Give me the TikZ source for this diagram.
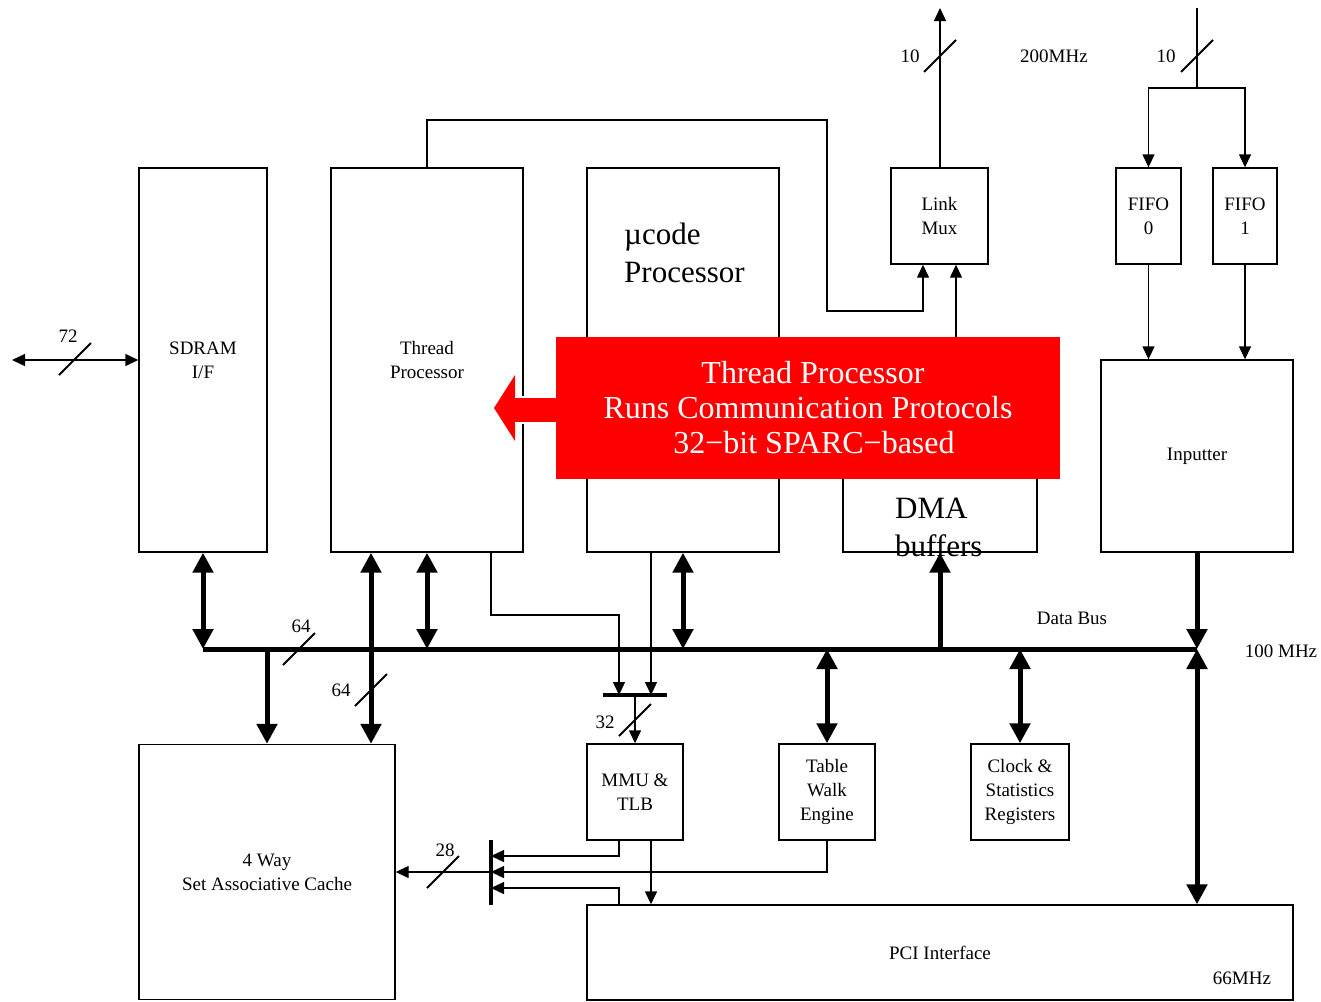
\documentclass[tikz,border=0pt]{standalone}
\usepackage{fontspec}
\setmainfont{Liberation Serif}
\usetikzlibrary{arrows.meta}
\begin{document}
\begin{tikzpicture}[x=1pt,y=-1pt,
  box/.style={draw, line width=1.4pt, inner sep=0pt, align=center, font=\fontsize{19}{24}\selectfont},
  thinl/.style={line width=1.4pt},
  tarr/.style={line width=1.4pt, -{Triangle[length=13pt,width=12pt]}},
  tboth/.style={line width=1.4pt, {Triangle[length=13pt,width=12pt]}-{Triangle[length=13pt,width=12pt]}},
  thickl/.style={line width=5pt},
  Tend/.style={line width=5pt, -{Triangle[length=20pt,width=20pt]}},
  Tboth/.style={line width=5pt, {Triangle[length=20pt,width=20pt]}-{Triangle[length=20pt,width=20pt]}},
  slash/.style={line width=2pt},
  lbl/.style={font=\fontsize{19}{24}\selectfont, inner sep=0pt},
  big/.style={font=\fontsize{31}{38}\selectfont, inner sep=0pt, align=left, anchor=north west}
]
\useasboundingbox (0,0) rectangle (1321,1001);

% boxes
\node[box, minimum width=128, minimum height=384] (sdram) at (203,360) {SDRAM\\I/F};
\node[box, minimum width=192, minimum height=384] (tp) at (427,360) {Thread\\Processor};
\node[box, minimum width=192, minimum height=384] (uc) at (683,360) {};
\node[box, minimum width=194, minimum height=112] (dma) at (940,496) {};
\node[box, minimum width=97, minimum height=96] (lmux) at (939.5,216) {Link\\Mux};
\node[box, minimum width=65, minimum height=96] (fifo0) at (1148.5,216) {FIFO\\0};
\node[box, minimum width=64, minimum height=96] (fifo1) at (1245,216) {FIFO\\1};
\node[box, minimum width=192, minimum height=192] (inp) at (1197,456) {Inputter};
\node[box, minimum width=96, minimum height=96] (mmu) at (635,792) {MMU \&\\TLB};
\node[box, minimum width=96, minimum height=96] (twe) at (827,792) {Table\\Walk\\Engine};
\node[box, minimum width=98, minimum height=96] (clk) at (1020,792) {Clock \&\\Statistics\\Registers};
\node[box, minimum width=256, minimum height=255] (cache) at (267,872) {4 Way\\Set Associative Cache};
\node[box, minimum width=706, minimum height=95] (pci) at (940,952.5) {PCI Interface};

\node[big] (uctext) at (624,223) {µcode\\Processor};

% top links
\coordinate (lout) at (940,8);
\draw[tarr] (lmux.north -| lout) -- (lout);
\draw[slash] (940,56) +(-16,16) -- +(16,-16);
\node[lbl] (l10a) at (910,56) {10};
\node[lbl] (mhz200) at (1054,56) {200MHz};

\coordinate (fin) at (1197,8);
\draw[thinl] (fin) -- (1197,88);
\draw[tarr] (1197,88) -| (fifo0.north);
\draw[tarr] (1197,88) -| (fifo1.north);
\draw[slash] (1197,56) +(-16,16) -- +(16,-16);
\node[lbl] (l10b) at (1166,56) {10};
\draw[tarr] (fifo0.south) -- (fifo0.south |- inp.north);
\draw[tarr] (fifo1.south) -- (fifo1.south |- inp.north);

\draw[tarr] (tp.north) -- (427,120) -- (827,120) |- (923,311) -- (lmux.south -| 923,0);
\draw[tarr] (dma.north -| 956,0) -- (lmux.south -| 956,0);

% SDRAM external
\coordinate (ext) at (12,360);
\draw[tboth] (ext) -- (sdram.west);
\draw[slash] (75,359) +(-16,16) -- +(16,-16);
\node[lbl] (l72) at (68,336) {72};

% red callout
\fill[red] (494,408) -- (515,375) -- (515,397) -- (566,397) -- (566,423) -- (515,423) -- (515,441) -- cycle;
\draw[white, line width=1.2pt] (515,397) -- (566,397) (515,423) -- (566,423);
\node[fill=red, minimum width=504, minimum height=142, inner sep=0pt, align=center,
      text=white, font=\fontsize{32}{35}\selectfont] (callout) at (808,408)
      {\hspace*{10pt}Thread Processor\\Runs Communication Protocols\\\hspace*{12pt}32{\char"2212}bit SPARC{\char"2212}based};

\node[big, anchor=north west] (dmatext) at (895,498) {DMA\\buffers};

% data bus
\coordinate (busL) at (203,649);
\coordinate (busR) at (1197,649);
\draw[thickl] (busL) -- (busR);
\node[lbl] (dbus) at (1072,618) {Data Bus};
\node[lbl] (mhz100) at (1281,651) {100 MHz};
\draw[slash] (299,649) +(-16,16) -- +(16,-16);
\node[lbl] (l64a) at (301,626) {64};

\draw[Tboth] (sdram.south) -- (busL);
\draw[Tboth] (tp.south -| 371,0) -- (cache.north -| 371,0);
\draw[slash] (371,690) +(-16,16) -- +(16,-16);
\node[lbl] (l64b) at (341,690) {64};
\draw[Tboth] (tp.south -| 427,0) -- (busL -| 427,0);
\draw[Tboth] (uc.south) -- (busL -| uc.south);
\draw[Tend] (busL -| 267,0) -- (cache.north -| 267,0);
\draw[Tend] (busL -| 940,0) -- (dma.south -| 940,0);
\draw[Tboth] (busL -| twe.north) -- (twe.north);
\draw[Tboth] (busL -| clk.north) -- (clk.north);
\draw[Tend] (inp.south) -- (busR);
\draw[Tboth] (busR) -- (pci.north -| busR);

% MMU input mux
\coordinate (barL) at (603,695);
\coordinate (barR) at (667,695);
\draw[line width=4pt] (barL) -- (barR);
\draw[tarr] (tp.south -| 491,0) -- (491,615) -| (barL -| 619,0);
\draw[tarr] (uc.south -| 651,0) -- (barL -| 651,0);
\draw[tarr] (barL -| mmu.north) -- (mmu.north);
\draw[slash] (635,720) +(-16,16) -- +(16,-16);
\node[lbl] (l32) at (605,722) {32};

% cache address mux
\coordinate (b2T) at (491,840);
\coordinate (b2B) at (491,905);
\draw[line width=4pt] (b2T) -- (b2B);
\draw[tarr] (mmu.south -| 619,0) -- (619,856) -- (b2T |- 0,856);
\draw[tarr] (twe.south) |- (b2T |- 0,872);
\draw[tarr] (pci.north -| 619,0) -- (619,888) -- (b2T |- 0,888);
\draw[tarr] (mmu.south -| 651,0) -- (pci.north -| 651,0);
\draw[tarr] (b2T |- 0,872) -- (cache.east |- 0,872);
\draw[slash] (443,872) +(-16,16) -- +(16,-16);
\node[lbl] (l28) at (445,850) {28};

\node[lbl] (mhz66) at (1242,978) {66MHz};
\end{tikzpicture}
\end{document}
